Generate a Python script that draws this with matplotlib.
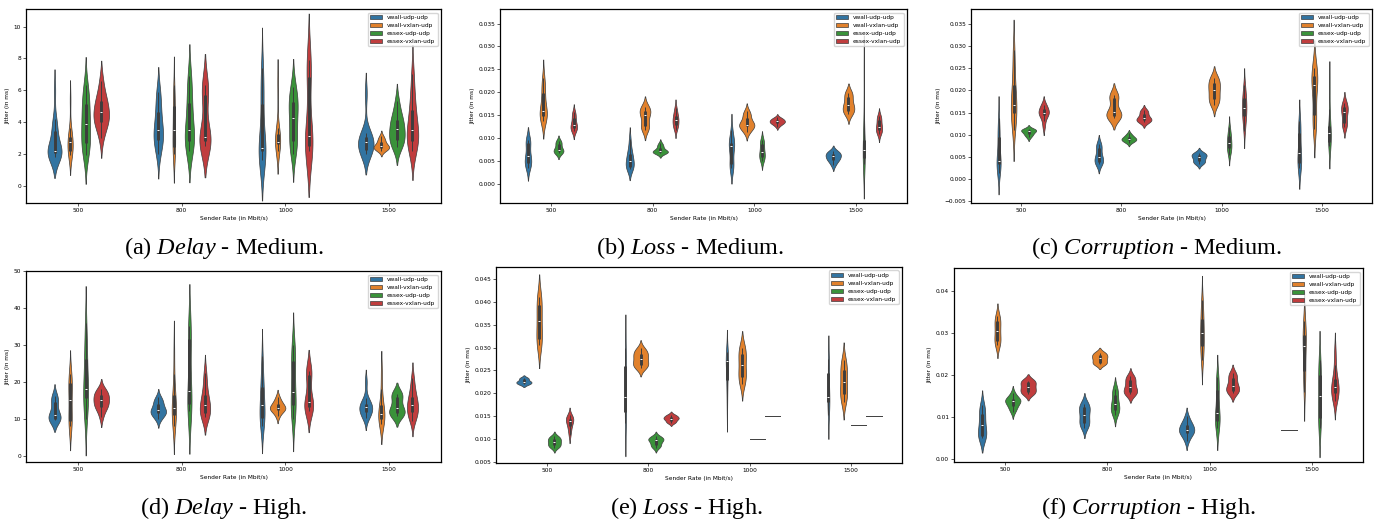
import numpy as np
import matplotlib
matplotlib.use("Agg")
import matplotlib.pyplot as plt
from matplotlib.patches import Patch
from matplotlib.cbook import boxplot_stats

# ---------------- data ----------------
categories = ["500", "800", "1000", "1500"]
hue_labels = ["vwall-udp-udp", "vwall-vxlan-udp", "essex-udp-udp", "essex-vxlan-udp"]
colors = ["#3274a1", "#e1812c", "#3a923a", "#c03d3e"]
x_label = "Sender Rate (in Mbit/s)"
y_label = "Jitter (in ms)"

# (a) Delay - Medium ; each list: samples at 500, 800, 1000, 1500 Mbit/s
dm_vwall_udp = [[1.8, 1.9, 1.95, 2.0, 2.05, 2.1, 2.15, 2.2, 2.2, 2.3, 2.6, 3.4, 3.6, 3.7, 4.2, 6.0],
                [2.0, 2.6, 2.8, 2.95, 3.4, 3.5, 3.7, 4.5, 4.8, 5.6, 5.9],
                [1.6, 2.0, 2.1, 2.2, 2.3, 2.35, 2.5, 4.6, 5.6, 6.3, 7.4],
                [2.0, 2.1, 2.2, 2.3, 2.6, 2.75, 2.9, 3.0, 3.1, 3.3, 5.8]]
dm_vwall_vxlan = [[1.9, 2.0, 2.1, 2.2, 2.6, 2.73, 2.8, 3.0, 3.15, 3.6, 5.4],
                  [2.0, 2.1, 2.4, 2.5, 3.4, 3.5, 3.7, 4.9, 5.05, 5.4, 6.3],
                  [2.2, 2.4, 2.6, 2.65, 2.7, 2.77, 3.0, 3.2, 3.35, 3.6, 6.5],
                  [2.2, 2.3, 2.35, 2.4, 2.45, 2.5, 2.6, 2.8, 2.9, 3.1]]
dm_essex_udp = [[1.9, 2.5, 2.6, 2.75, 3.6, 3.88, 4.2, 4.8, 5.4, 5.6, 6.3],
                [2.2, 2.6, 2.75, 2.8, 3.3, 3.5, 4.2, 5.0, 5.35, 6.4, 6.9],
                [2.0, 2.6, 2.75, 2.9, 3.9, 4.23, 4.8, 5.15, 5.3, 5.8, 6.2],
                [2.4, 2.7, 2.8, 2.9, 3.3, 3.56, 3.7, 4.0, 4.25, 4.6, 5.3]]
dm_essex_vxlan = [[3.0, 3.8, 3.95, 4.0, 4.4, 4.61, 4.8, 5.1, 5.5, 5.7, 6.6],
                  [2.5, 2.6, 2.75, 2.8, 2.95, 3.06, 3.5, 5.4, 6.0, 6.2, 6.3],
                  [2.2, 2.4, 2.45, 2.5, 2.9, 3.14, 3.6, 6.5, 7.2, 7.6, 7.9],
                  [2.2, 2.6, 2.75, 2.9, 3.3, 3.5, 3.8, 4.5, 5.0, 5.8, 7.0]]

# (b) Loss - Medium
lm_vwall_udp = [[0.0035, 0.004, 0.0044, 0.0046, 0.0055, 0.006, 0.0062, 0.0085, 0.0092, 0.0094, 0.0095],
                [0.0033, 0.0035, 0.0036, 0.0038, 0.0045, 0.00503, 0.0055, 0.0062, 0.0068, 0.0078, 0.0098],
                [0.0035, 0.0038, 0.0041, 0.0043, 0.0075, 0.0082, 0.0084, 0.0087, 0.0091, 0.0098, 0.0118],
                [0.0040, 0.0048, 0.0052, 0.0054, 0.0058, 0.0061, 0.0063, 0.0066, 0.0069, 0.0071]]
lm_vwall_vxlan = [[0.0138, 0.0145, 0.0148, 0.015, 0.0155, 0.016, 0.0168, 0.019, 0.0205, 0.0215, 0.0232],
                  [0.0118, 0.0122, 0.0125, 0.0127, 0.0142, 0.0151, 0.0153, 0.0158, 0.0162, 0.0165, 0.0168],
                  [0.0112, 0.0118, 0.0124, 0.0127, 0.0128, 0.0129, 0.0132, 0.0138, 0.0148, 0.0152, 0.0158],
                  [0.0152, 0.0156, 0.0158, 0.0162, 0.0168, 0.0171, 0.0175, 0.0185, 0.0195, 0.0197, 0.0198]]
lm_essex_udp = [[0.0066, 0.0068, 0.007, 0.0072, 0.0074, 0.0075, 0.0082, 0.0088, 0.0091, 0.0093],
                [0.0066, 0.0068, 0.0069, 0.007, 0.007, 0.0071, 0.0074, 0.008, 0.0083, 0.0088],
                [0.0050, 0.0054, 0.0057, 0.006, 0.0066, 0.0069, 0.0072, 0.0083, 0.0089, 0.0092, 0.0095],
                [0.0042, 0.0048, 0.0055, 0.0058, 0.007, 0.0074, 0.008, 0.0092, 0.0101, 0.015, 0.025]]
lm_essex_vxlan = [[0.0115, 0.0118, 0.012, 0.0122, 0.0126, 0.0129, 0.0132, 0.014, 0.0148, 0.0152, 0.0156],
                  [0.0118, 0.0124, 0.0127, 0.0131, 0.0136, 0.014, 0.0142, 0.0146, 0.0152, 0.0158, 0.0166],
                  [0.0125, 0.013, 0.0131, 0.0133, 0.0135, 0.0136, 0.0137, 0.0139, 0.0141, 0.0142, 0.0145],
                  [0.0108, 0.0112, 0.0116, 0.0118, 0.0122, 0.0125, 0.0129, 0.0136, 0.0142, 0.0145, 0.0148]]

# (c) Corruption - Medium
cm_vwall_udp = [[0.0015, 0.003, 0.0034, 0.0036, 0.0039, 0.0041, 0.0048, 0.0088, 0.0102, 0.0105, 0.0138],
                [0.0034, 0.0037, 0.0039, 0.004, 0.0046, 0.005, 0.0053, 0.0065, 0.0074, 0.0076, 0.0079],
                [0.0035, 0.0037, 0.0039, 0.0042, 0.0046, 0.005, 0.0052, 0.0054, 0.0056, 0.0058, 0.006],
                [0.0026, 0.003, 0.0035, 0.0036, 0.0052, 0.006, 0.0066, 0.0095, 0.0111, 0.0118, 0.0132]]
cm_vwall_vxlan = [[0.011, 0.0132, 0.0142, 0.0155, 0.016, 0.0166, 0.0185, 0.0205, 0.022, 0.0265, 0.029],
                  [0.0138, 0.014, 0.0141, 0.0143, 0.0148, 0.01505, 0.0155, 0.0178, 0.0186, 0.0188, 0.019],
                  [0.0168, 0.0175, 0.0178, 0.0181, 0.0195, 0.0201, 0.0205, 0.0212, 0.0222, 0.0225, 0.0228],
                  [0.0112, 0.0125, 0.0138, 0.0152, 0.0195, 0.0211, 0.022, 0.0228, 0.0235, 0.0245, 0.025]]
cm_essex_udp = [[0.0094, 0.0099, 0.0101, 0.0104, 0.0107, 0.0109, 0.011, 0.0111, 0.0112, 0.0114],
                [0.0082, 0.0085, 0.0087, 0.0089, 0.009, 0.0091, 0.0093, 0.0096, 0.0098, 0.0103],
                [0.0055, 0.0063, 0.0068, 0.0071, 0.0078, 0.0081, 0.0086, 0.0095, 0.0099, 0.0105, 0.0118],
                [0.0075, 0.0082, 0.0083, 0.0086, 0.0098, 0.0105, 0.011, 0.0118, 0.0122, 0.0158, 0.0215]]
cm_essex_vxlan = [[0.0118, 0.0132, 0.0144, 0.0146, 0.0149, 0.01505, 0.0153, 0.0159, 0.0165, 0.0168],
                  [0.0128, 0.013, 0.0132, 0.0134, 0.0136, 0.0138, 0.0142, 0.0149, 0.0153, 0.0155],
                  [0.0108, 0.0128, 0.0138, 0.0146, 0.0155, 0.0161, 0.0168, 0.0178, 0.0186, 0.0195, 0.0212],
                  [0.0118, 0.0122, 0.0125, 0.0127, 0.0146, 0.01505, 0.0153, 0.0158, 0.0166, 0.0168, 0.0172]]

# (d) Delay - High
dh_vwall_udp = [[9.6, 9.7, 9.8, 10.0, 10.6, 11.1, 11.8, 13.8, 15.0, 15.6, 16.2],
                [9.8, 10.8, 11.3, 11.7, 12.0, 12.25, 12.6, 13.6, 14.5, 14.8, 15.8],
                [8.0, 9.5, 10.0, 10.4, 12.5, 13.6, 15.0, 18.0, 19.4, 22.0, 27.0],
                [10.2, 11.0, 11.5, 11.9, 12.6, 13.3, 13.5, 13.8, 14.2, 15.5, 20.0]]
dh_vwall_vxlan = [[8.0, 8.8, 9.2, 9.8, 13.5, 14.95, 17.0, 19.0, 20.2, 21.0, 22.0],
                  [8.0, 9.0, 10.8, 11.4, 12.2, 12.9, 14.0, 16.0, 17.0, 22.0, 29.0],
                  [10.6, 11.8, 12.2, 12.6, 12.8, 12.9, 13.2, 13.8, 14.3, 14.8, 16.0],
                  [8.5, 8.8, 9.6, 10.2, 10.9, 11.35, 12.2, 13.5, 14.1, 18.0, 23.0]]
dh_essex_udp = [[10.0, 13.0, 15.0, 16.2, 17.0, 18.1, 21.0, 25.0, 27.4, 31.0, 36.0],
                [12.0, 13.0, 13.8, 14.3, 16.0, 17.4, 24.0, 30.0, 33.0, 34.0, 35.0],
                [10.0, 12.0, 13.0, 14.2, 16.0, 17.2, 22.0, 25.0, 26.4, 28.5, 30.0],
                [10.8, 11.0, 11.3, 11.7, 12.3, 12.9, 13.8, 15.5, 16.5, 16.8, 16.8]]
dh_essex_vxlan = [[10.5, 12.6, 13.1, 13.5, 14.4, 14.95, 15.5, 16.2, 16.8, 17.3, 18.0],
                  [10.5, 10.8, 11.2, 11.8, 13.0, 13.8, 14.5, 16.0, 17.0, 20.0, 22.5],
                  [12.0, 12.5, 13.0, 13.6, 14.0, 14.5, 16.0, 21.0, 22.8, 23.0, 23.0],
                  [9.5, 10.8, 11.4, 12.0, 13.0, 13.8, 14.5, 15.5, 16.5, 18.5, 21.0]]

# (e) Loss - High
lh_vwall_udp = [[0.022, 0.022, 0.0221, 0.0225, 0.0225, 0.0225, 0.0226, 0.0232, 0.0233, 0.0233],
                [0.0135, 0.0145, 0.0155, 0.0163, 0.018, 0.0191, 0.022, 0.0255, 0.0264, 0.028, 0.030],
                [0.0165, 0.020, 0.0225, 0.0232, 0.0265, 0.0270, 0.0271, 0.0272, 0.0273, 0.0285, 0.029],
                [0.0152, 0.0168, 0.0178, 0.0185, 0.0188, 0.0191, 0.0205, 0.0235, 0.0255, 0.0265, 0.0275]]
lh_vwall_vxlan = [[0.0305, 0.031, 0.0315, 0.0321, 0.0345, 0.0357, 0.0365, 0.0385, 0.0401, 0.0408, 0.041],
                  [0.0255, 0.026, 0.0261, 0.0263, 0.027, 0.0276, 0.028, 0.0285, 0.0289, 0.0293, 0.0298],
                  [0.022, 0.0228, 0.0233, 0.0239, 0.0252, 0.0262, 0.027, 0.0283, 0.0291, 0.0298, 0.030],
                  [0.0182, 0.019, 0.0195, 0.02, 0.0215, 0.0225, 0.0235, 0.0248, 0.0256, 0.0265, 0.0272]]
lh_essex_udp = [[0.0081, 0.0084, 0.0086, 0.0087, 0.0092, 0.0094, 0.0096, 0.0099, 0.0102, 0.0104, 0.0106],
                [0.0081, 0.0084, 0.0087, 0.0089, 0.0095, 0.0097, 0.0098, 0.01, 0.0102, 0.0104, 0.0106],
                [0.010, 0.010, 0.010, 0.010, 0.010, 0.010, 0.010, 0.010, 0.010],
                [0.013, 0.013, 0.013, 0.013, 0.013, 0.013, 0.013, 0.013, 0.013]]
lh_essex_vxlan = [[0.0108, 0.0118, 0.0126, 0.013, 0.0136, 0.014, 0.0142, 0.0144, 0.0146, 0.0149, 0.0152],
                  [0.0136, 0.0137, 0.0138, 0.0143, 0.0145, 0.0145, 0.0145, 0.0148, 0.015, 0.0152, 0.0153],
                  [0.015, 0.015, 0.015, 0.015, 0.015, 0.015, 0.015, 0.015, 0.015],
                  [0.015, 0.015, 0.015, 0.015, 0.015, 0.015, 0.015, 0.015, 0.015]]

# (f) Corruption - High
ch_vwall_udp = [[0.0051, 0.0053, 0.0055, 0.0057, 0.0068, 0.008, 0.0088, 0.0101, 0.0115, 0.012, 0.0128],
                [0.0075, 0.0082, 0.0084, 0.0088, 0.0099, 0.0106, 0.0112, 0.0121, 0.0125, 0.0128, 0.0132],
                [0.0042, 0.0055, 0.006, 0.0064, 0.0067, 0.007, 0.0074, 0.008, 0.0084, 0.0089, 0.0102],
                [0.007, 0.007, 0.007, 0.007, 0.007, 0.007, 0.007, 0.007, 0.007]]
ch_vwall_vxlan = [[0.0272, 0.0278, 0.028, 0.0282, 0.0298, 0.0306, 0.0312, 0.0325, 0.0332, 0.0336, 0.034],
                  [0.0227, 0.0228, 0.0229, 0.0229, 0.024, 0.024, 0.0241, 0.0246, 0.0251, 0.0252, 0.0253],
                  [0.0235, 0.025, 0.0265, 0.0272, 0.0288, 0.0301, 0.031, 0.0328, 0.034, 0.036, 0.038],
                  [0.016, 0.019, 0.0205, 0.0213, 0.0255, 0.027, 0.0282, 0.0293, 0.030, 0.0315, 0.033]]
ch_essex_udp = [[0.0112, 0.012, 0.0125, 0.013, 0.0135, 0.0139, 0.014, 0.0141, 0.0143, 0.0149, 0.0158],
                [0.0105, 0.0112, 0.0116, 0.0119, 0.0125, 0.013, 0.0136, 0.0148, 0.0159, 0.0163, 0.0168],
                [0.0075, 0.0082, 0.0089, 0.0094, 0.0103, 0.011, 0.012, 0.0158, 0.0173, 0.0182, 0.0195],
                [0.0075, 0.0088, 0.0095, 0.010, 0.0135, 0.015, 0.0165, 0.0195, 0.0207, 0.022, 0.0235]]
ch_essex_vxlan = [[0.0155, 0.0156, 0.0159, 0.0163, 0.0168, 0.0171, 0.0175, 0.0181, 0.0186, 0.0186, 0.0187],
                  [0.0154, 0.0157, 0.0158, 0.016, 0.0166, 0.0171, 0.0176, 0.0184, 0.0191, 0.0194, 0.0197],
                  [0.0158, 0.016, 0.0162, 0.0164, 0.017, 0.0175, 0.0179, 0.0188, 0.0198, 0.0201, 0.0204],
                  [0.0138, 0.0148, 0.0154, 0.0161, 0.0166, 0.0171, 0.0178, 0.0186, 0.0196, 0.0225, 0.0258]]

# y ticks per panel
yticks_a = [0, 2, 4, 6, 8, 10]
yticks_b = [0.0, 0.005, 0.010, 0.015, 0.020, 0.025, 0.030, 0.035]
yticks_c = [-0.005, 0.0, 0.005, 0.010, 0.015, 0.020, 0.025, 0.030, 0.035]
yticks_d = [0, 10, 20, 30, 40, 50]
yticks_e = [0.005, 0.010, 0.015, 0.020, 0.025, 0.030, 0.035, 0.040, 0.045]
yticks_f = [0.0, 0.01, 0.02, 0.03, 0.04]

captions = [("(a) ", "Delay", " - Medium."), ("(b) ", "Loss", " - Medium."),
            ("(c) ", "Corruption", " - Medium."), ("(d) ", "Delay", " - High."),
            ("(e) ", "Loss", " - High."), ("(f) ", "Corruption", " - High.")]

# ---------------- style ----------------
W, H = 1388, 525
FS = 4.2
GRAY = "#3d3d3d"
plt.rcParams.update({
    "font.family": "DejaVu Sans",
    "font.size": FS,
    "axes.linewidth": 0.9,
    "xtick.major.size": 2.2, "ytick.major.size": 2.2,
    "xtick.major.width": 0.45, "ytick.major.width": 0.45,
    "xtick.major.pad": 1.3, "ytick.major.pad": 1.3,
    "xtick.labelsize": FS, "ytick.labelsize": FS,
    "axes.labelsize": FS, "axes.labelpad": 2.5,
    "legend.fontsize": FS,
    "mathtext.fontset": "custom",
    "mathtext.rm": "Liberation Serif",
    "mathtext.it": "Liberation Serif:italic",
})


def kde_curve(obs):
    obs = np.asarray(obs, dtype=float)
    if np.ptp(obs) == 0:
        return None
    n = obs.size
    bw = obs.std(ddof=1) * n ** (-0.2)
    grid = np.linspace(obs.min() - 2 * bw, obs.max() + 2 * bw, 100)
    dens = np.exp(-0.5 * ((grid[:, None] - obs[None, :]) / bw) ** 2).sum(1)
    dens /= n * bw * np.sqrt(2 * np.pi)
    return grid, dens


def violin_panel(ax, series, ylim, yticks):
    slot = 0.15
    offsets = (np.arange(len(series)) - (len(series) - 1) / 2) * slot
    for h, per_cat in enumerate(series):
        curves = [kde_curve(o) for o in per_cat]
        peak = max(c[1].max() for c in curves if c is not None)
        for ci, (obs, curve) in enumerate(zip(per_cat, curves)):
            pos = ci + offsets[h]
            if curve is None:
                ax.plot([pos - slot / 2, pos + slot / 2], [obs[0], obs[0]],
                        color=GRAY, lw=0.7, zorder=2)
                continue
            grid, dens = curve
            half = dens / peak * slot / 2
            ax.fill_betweenx(grid, pos - half, pos + half, facecolor=colors[h],
                             edgecolor=GRAY, linewidth=0.5, zorder=1)
            st = boxplot_stats(np.asarray(obs))[0]
            ax.plot([pos, pos], [st["whislo"], st["whishi"]], color=GRAY, lw=0.7,
                    solid_capstyle="butt", zorder=2)
            ax.plot([pos, pos], [st["q1"], st["q3"]], color=GRAY, lw=2.1,
                    solid_capstyle="butt", zorder=2)
            ax.plot([pos], [st["med"]], marker="_", color="white", ms=2.0, mew=0.7,
                    zorder=3)
    ax.set_xlim(-0.5, len(categories) - 0.5)
    ax.set_xticks(range(len(categories)), categories)
    ax.set_ylim(*ylim)
    ax.set_yticks(yticks)
    ax.set_xlabel(x_label)
    ax.set_ylabel(y_label)
    handles = [Patch(facecolor=c, edgecolor=GRAY, linewidth=0.5, label=l)
               for c, l in zip(colors, hue_labels)]
    ax.legend(handles=handles, loc="upper right", borderaxespad=0.6)


fig = plt.figure(figsize=(W / 100, H / 100), dpi=100)

# pixel boxes (x0, y0, x1, y1) of the six axes
boxes = [(26, 9, 441, 203), (500, 9, 907, 203), (971, 9, 1372, 203),
         (26, 271, 441, 462), (496, 267, 902, 463), (954, 268, 1363, 462)]
panels = [
    ([dm_vwall_udp, dm_vwall_vxlan, dm_essex_udp, dm_essex_vxlan], (-1.09, 11.1), yticks_a),
    ([lm_vwall_udp, lm_vwall_vxlan, lm_essex_udp, lm_essex_vxlan], (-0.00423, 0.0382), yticks_b),
    ([cm_vwall_udp, cm_vwall_vxlan, cm_essex_udp, cm_essex_vxlan], (-0.00534, 0.0383), yticks_c),
    ([dh_vwall_udp, dh_vwall_vxlan, dh_essex_udp, dh_essex_vxlan], (-1.75, 50.05), yticks_d),
    ([lh_vwall_udp, lh_vwall_vxlan, lh_essex_udp, lh_essex_vxlan], (0.00478, 0.0476), yticks_e),
    ([ch_vwall_udp, ch_vwall_vxlan, ch_essex_udp, ch_essex_vxlan], (-0.00072, 0.04557), yticks_f),
]
caption_pos = [(224, 254), (690, 254), (1157, 254), (224, 514), (686, 514), (1148, 514)]

for (x0, y0, x1, y1), (series, ylim, yt), (cx, cy), cap in zip(boxes, panels, caption_pos, captions):
    ax = fig.add_axes([x0 / W, 1 - y1 / H, (x1 - x0) / W, (y1 - y0) / H])
    violin_panel(ax, series, ylim, yt)
    text = cap[0] + r"$\mathit{" + cap[1] + "}$" + cap[2]
    fig.text(cx / W, 1 - cy / H, text, ha="center", va="baseline",
             fontsize=17.5, family="Liberation Serif")

fig.savefig("out.png", dpi=100)
